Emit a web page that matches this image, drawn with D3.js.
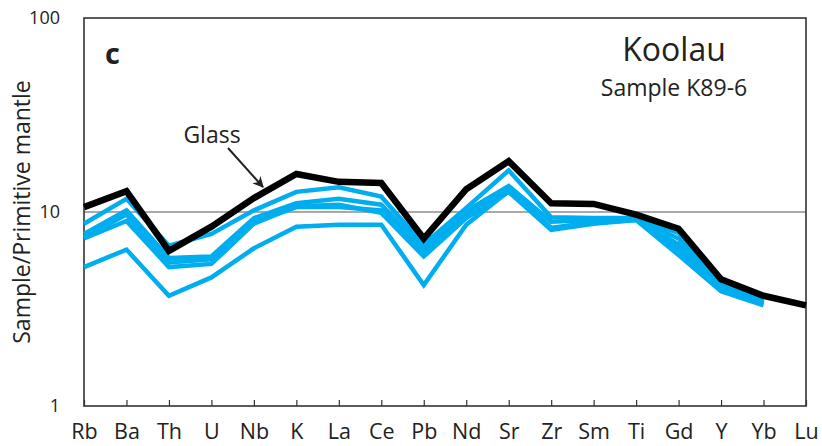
<!DOCTYPE html>
<html>
<head>
<meta charset="utf-8">
<script src="https://cdn.jsdelivr.net/npm/d3@7"></script>
<style>
  html, body { margin: 0; padding: 0; background: #fff; }
  svg { display: block; font-family: "Open Sans", sans-serif; }
</style>
</head>
<body>
<svg id="chart" width="822" height="446"></svg>
<script>
const elements = ["Rb","Ba","Th","U","Nb","K","La","Ce","Pb","Nd","Sr","Zr","Sm","Ti","Gd","Y","Yb","Lu"];
const yTicks = [1, 10, 100];

// Glass (black)
const glass = [10.6, 12.8, 6.3, 8.4, 11.8, 15.7, 14.3, 14.1, 7.3, 13.1, 18.3, 11.1, 11.0, 9.7, 8.2, 4.5, 3.7, 3.3];

// Other analyses (blue), Rb..Yb (no Lu)
const seriesA = [8.7, 11.7, 6.7, 7.7, 10.2, 12.7, 13.4, 12.0, 6.8, 10.5, 16.4, 9.4, 9.3, 9.3, 7.8, 4.2, 3.5];
const seriesB = [7.7, 10.2, 5.8, 5.9, 9.3, 11.1, 11.7, 10.9, 6.5, 10.1, 13.6, 8.9, 9.1, 9.2, 7.3, 4.1, 3.4];
const seriesC = [7.4, 9.7, 5.5, 5.7, 8.9, 10.6, 10.6, 10.2, 6.2, 9.7, 13.0, 8.3, 8.8, 9.1, 6.4, 4.0, 3.4];
const seriesD = [7.3, 9.0, 5.2, 5.4, 8.7, 10.7, 10.9, 9.9, 5.9, 9.3, 12.7, 8.1, 8.7, 9.1, 6.0, 3.9, 3.3];
const seriesE = [5.2, 6.4, 3.7, 4.6, 6.5, 8.4, 8.6, 8.6, 4.2, 8.6, 12.8, 8.2, 8.9, 9.2, 6.8, 4.1, 3.4];
const blueSeries = [seriesA, seriesB, seriesC, seriesD, seriesE];

const svg = d3.select("#chart");
const mLeft = 84, mRight = 806, mTop = 18, mBottom = 406;

const x = d3.scalePoint().domain(elements).range([mLeft, mRight]).padding(0);
const y = d3.scaleLog().domain([1, 100]).range([mBottom, mTop]);

// gridline at 10
svg.append("line")
  .attr("x1", mLeft).attr("x2", mRight)
  .attr("y1", y(10)).attr("y2", y(10))
  .attr("stroke", "#555").attr("stroke-width", 1.2);

// x axis
const xAxis = svg.append("g")
  .attr("transform", `translate(0,${mBottom})`)
  .call(d3.axisBottom(x).tickSizeInner(-6).tickSizeOuter(0).tickPadding(18));
xAxis.select(".domain").remove();
xAxis.selectAll(".tick line").attr("stroke", "#333").attr("stroke-width", 1.2);
xAxis.selectAll(".tick text").attr("font-size", 21.5).attr("fill", "#222").attr("font-family", "Open Sans, sans-serif");

// y axis
const yAxis = svg.append("g")
  .attr("transform", `translate(${mLeft},0)`)
  .call(d3.axisLeft(y).tickValues(yTicks).tickFormat(d3.format("d")).tickSize(0).tickPadding(24));
yAxis.select(".domain").remove();
yAxis.selectAll(".tick text").attr("font-size", 18).attr("fill", "#222").attr("font-family", "Open Sans, sans-serif");

// frame
svg.append("rect")
  .attr("x", mLeft).attr("y", mTop)
  .attr("width", mRight - mLeft).attr("height", mBottom - mTop)
  .attr("fill", "none").attr("stroke", "#333").attr("stroke-width", 1.6);

// y title
svg.append("text")
  .attr("transform", `translate(30,212) rotate(-90)`)
  .attr("text-anchor", "middle")
  .attr("font-size", 23).attr("fill", "#222")
  .text("Sample/Primitive mantle");

const line = d3.line()
  .x((d, i) => x(elements[i]))
  .y(d => y(d));

svg.append("g").selectAll("path")
  .data(blueSeries)
  .join("path")
  .attr("d", d => line(d))
  .attr("fill", "none")
  .attr("stroke", "#00AEEF")
  .attr("stroke-width", 4.5)
  .attr("stroke-linejoin", "miter");

svg.append("path")
  .attr("d", line(glass))
  .attr("fill", "none")
  .attr("stroke", "#000")
  .attr("stroke-width", 6.5)
  .attr("stroke-linejoin", "miter");

// panel letter
svg.append("text")
  .attr("x", 105).attr("y", 64)
  .attr("font-size", 29).attr("font-weight", "bold").attr("fill", "#222")
  .text("c");

// title
svg.append("text")
  .attr("x", 674).attr("y", 61)
  .attr("text-anchor", "middle")
  .attr("font-size", 32).attr("fill", "#222")
  .text("Koolau");
svg.append("text")
  .attr("x", 674).attr("y", 95.5)
  .attr("text-anchor", "middle")
  .attr("font-size", 23).attr("fill", "#222")
  .text("Sample K89-6");

// Glass annotation
svg.append("defs").append("marker")
  .attr("id", "arrow")
  .attr("viewBox", "0 0 10 10")
  .attr("refX", 9).attr("refY", 5)
  .attr("markerWidth", 11).attr("markerHeight", 11)
  .attr("markerUnits", "userSpaceOnUse")
  .attr("orient", "auto")
  .append("path").attr("d", "M0,0 L10,5 L0,10 L3,5 Z").attr("fill", "#222");
svg.append("line")
  .attr("x1", 228).attr("y1", 148)
  .attr("x2", 263).attr("y2", 187)
  .attr("stroke", "#222").attr("stroke-width", 2)
  .attr("marker-end", "url(#arrow)");
svg.append("text")
  .attr("x", 212).attr("y", 143)
  .attr("text-anchor", "middle")
  .attr("font-size", 23).attr("fill", "#222")
  .text("Glass");
</script>
</body>
</html>
